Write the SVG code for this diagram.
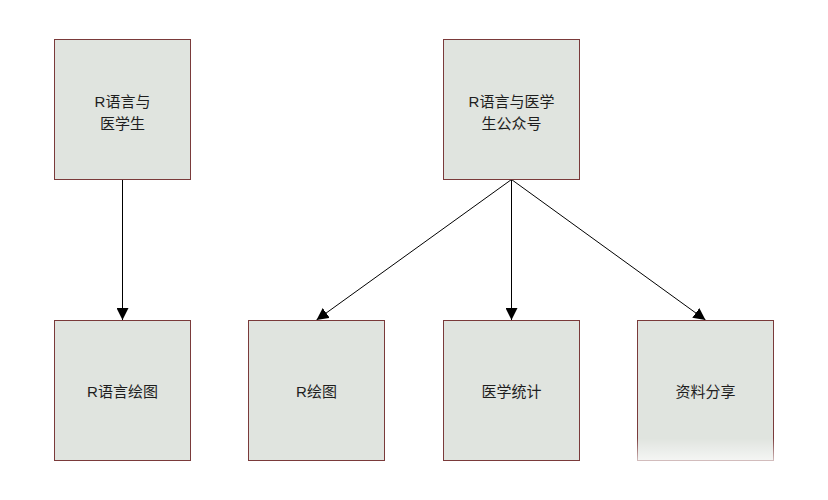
<svg xmlns="http://www.w3.org/2000/svg" width="828" height="500" viewBox="0 0 828 500">
<style>
.box{fill:#e0e4df;stroke:#7a3a3a;stroke-width:1}
.lbl{font-family:"Liberation Sans","Noto Sans CJK SC",sans-serif;font-size:15px;fill:#1e1e1e;text-anchor:middle}
.edge{stroke:#000;stroke-width:1;fill:none;marker-end:url(#arr)}
</style>
<defs>
<marker id="arr" viewBox="0 0 10 10" refX="10" refY="5" markerWidth="12" markerHeight="12" markerUnits="userSpaceOnUse" orient="auto">
<path d="M0,0 L10,5 L0,10 Z" fill="#000"/>
</marker>
<linearGradient id="fade" x1="0" y1="0" x2="0" y2="1">
<stop offset="0" stop-color="#fff" stop-opacity="0"/>
<stop offset="1" stop-color="#fff" stop-opacity="1"/>
</linearGradient>
</defs>
<rect width="828" height="500" fill="#fff"/>
<g id="connectors">
<line class="edge" x1="122.5" y1="179.5" x2="122.5" y2="320"/>
<line class="edge" x1="511.5" y1="179.5" x2="316.5" y2="320"/>
<line class="edge" x1="511.5" y1="179.5" x2="511.5" y2="320"/>
<line class="edge" x1="511.5" y1="179.5" x2="705.5" y2="320"/>
</g>
<g id="n1"><rect class="box" x="54.5" y="39.5" width="136" height="140"/>
<text class="lbl" x="122.5" y="107">R语言与</text><text class="lbl" x="122.5" y="129">医学生</text></g>
<g id="n2"><rect class="box" x="443.5" y="39.5" width="136" height="140"/>
<text class="lbl" x="511.5" y="107">R语言与医学</text><text class="lbl" x="511.5" y="129">生公众号</text></g>
<g id="n3"><rect class="box" x="54.5" y="320.5" width="136" height="140"/>
<text class="lbl" x="122.5" y="397">R语言绘图</text></g>
<g id="n4"><rect class="box" x="248.5" y="320.5" width="136" height="140"/>
<text class="lbl" x="316.5" y="397">R绘图</text></g>
<g id="n5"><rect class="box" x="443.5" y="320.5" width="136" height="140"/>
<text class="lbl" x="511.5" y="397">医学统计</text></g>
<g id="n6"><rect class="box" x="637.5" y="320.5" width="136" height="140"/>
<text class="lbl" x="705.5" y="397">资料分享</text></g>
<rect x="630" y="438" width="160" height="34" fill="url(#fade)"/>
</svg>
